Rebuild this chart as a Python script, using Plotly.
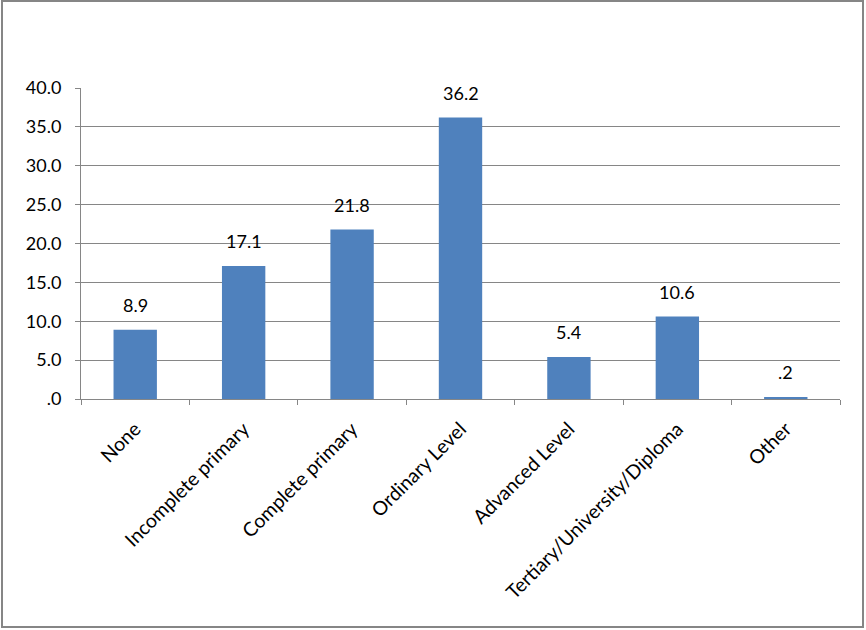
import plotly.graph_objects as go

categories = ["None", "Incomplete primary", "Complete primary", "Ordinary Level",
              "Advanced Level", "Tertiary/University/Diploma", "Other"]
values = [8.9, 17.1, 21.8, 36.2, 5.4, 10.6, 0.2]
y_ticks = [0, 5, 10, 15, 20, 25, 30, 35, 40]
y_ticktext = [".0", "5.0", "10.0", "15.0", "20.0", "25.0", "30.0", "35.0", "40.0"]


def fmt(v):
    s = f"{v:.1f}"
    return s[1:] if s.startswith("0") else s


W, H = 866, 630
L, R, T, B = 81, 26, 88, 231
pw, ph = W - L - R, H - T - B
FONT = "Lato, Liberation Sans, Arial"

fig = go.Figure(go.Bar(
    x=categories, y=values,
    marker=dict(color="#4F81BD", line=dict(width=0)),
    hoverinfo="x+y",
))

for c, v in zip(categories, values):
    fig.add_annotation(
        x=c, y=v, xref="x", yref="y", text=fmt(v), showarrow=False,
        yanchor="bottom", yshift=12,
        font=dict(family=FONT, size=18, color="#000000"),
    )

fig.update_layout(
    width=W, height=H,
    margin=dict(l=L, r=R, t=T, b=B),
    paper_bgcolor="white", plot_bgcolor="white",
    bargap=0.6, showlegend=False,
    font=dict(family=FONT, size=18, color="#000000"),
    xaxis=dict(
        tickangle=-45, tickson="boundaries", ticks="outside", ticklen=5,
        tickcolor="#868686", showline=True, linecolor="#868686", linewidth=1,
        showgrid=False, tickfont=dict(size=19.5), automargin=False,
        ticklabelstandoff=10,
    ),
    yaxis=dict(
        range=[0, 40], tickvals=y_ticks, ticktext=y_ticktext,
        ticks="outside", ticklen=5, tickcolor="#868686",
        showline=True, linecolor="#868686", linewidth=1,
        showgrid=True, gridcolor="#868686", gridwidth=1,
        zeroline=False, tickfont=dict(size=18), automargin=False,
        ticklabelstandoff=10,
    ),
    shapes=[dict(
        type="rect", xref="paper", yref="paper",
        x0=(2 - L) / pw, x1=(863 - L) / pw,
        y0=(H - B - 627) / ph, y1=(H - B - 1) / ph,
        line=dict(color="#868686", width=2), fillcolor="rgba(0,0,0,0)",
        layer="below",
    )],
)

fig.write_html("out.html", config={"displayModeBar": False},
               post_script="document.body.style.margin='0';")
